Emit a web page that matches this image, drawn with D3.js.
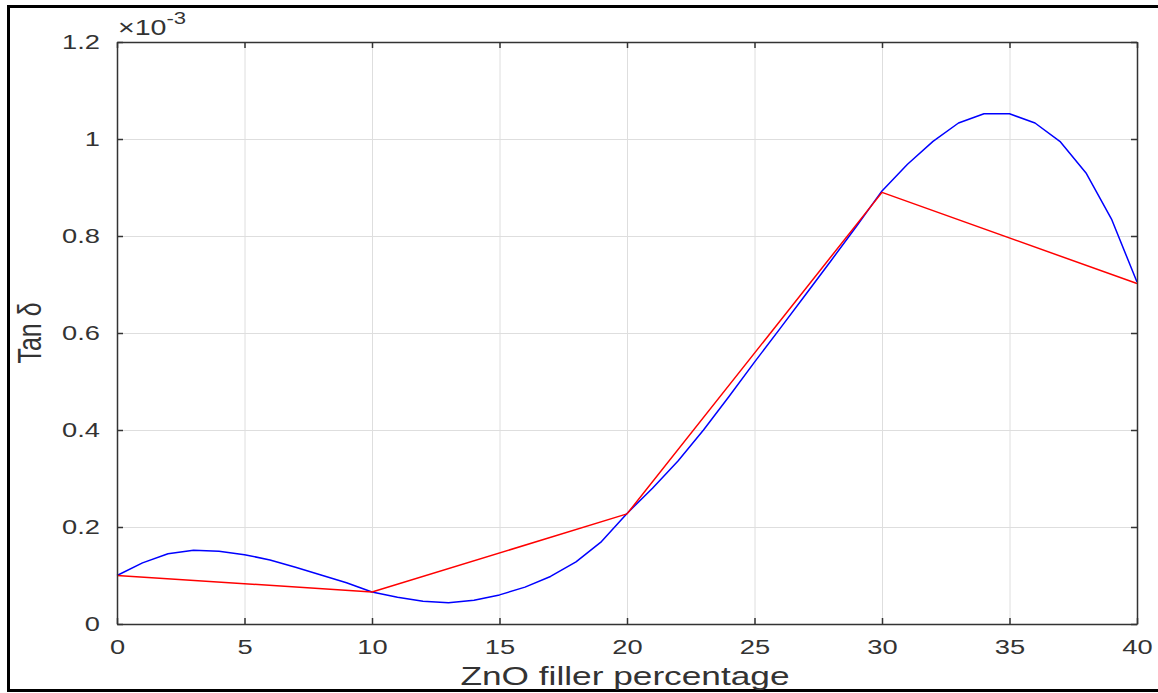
<!DOCTYPE html>
<html>
<head>
<meta charset="utf-8">
<style>
  body { margin: 0; background: #fff; }
  svg text { font-family: "Liberation Sans", Arial, sans-serif; fill: #333; }
  .grid line { stroke: #dedede; stroke-width: 1px; }
  .grid path { display: none; }
  .axis path, .axis line { stroke: #333; stroke-width: 1.5px; }
  .series { fill: none; stroke-width: 1.5px; stroke-linejoin: round; }
</style>
</head>
<body>
<svg width="1158" height="693"></svg>

<script src="https://d3js.org/d3.v7.min.js"></script>
<script>
  // ZnO filler percentage vs tan delta (x 10^-3)
  var xTicks = [0, 5, 10, 15, 20, 25, 30, 35, 40];
  var yTicks = [0, 0.2, 0.4, 0.6, 0.8, 1, 1.2];

  // measured points (red, straight segments)
  var measX = [0, 10, 20, 30, 40];
  var measY = [0.100, 0.066, 0.227, 0.890, 0.702];

  // fitted curve (blue), read at every 1 %
  var fitX = d3.range(0, 41);
  var fitY = [0.100, 0.126, 0.145, 0.152, 0.150, 0.143, 0.132, 0.117, 0.101, 0.085,
              0.066, 0.055, 0.047, 0.044, 0.049, 0.060, 0.076, 0.098, 0.128, 0.170,
              0.228, 0.280, 0.336, 0.400, 0.469, 0.540, 0.609, 0.679, 0.749, 0.820,
              0.893, 0.948, 0.995, 1.033, 1.052, 1.052, 1.033, 0.994, 0.930, 0.835,
              0.705];

  var svg = d3.select("svg");
  var pL = 117, pT = 42, pR = 1137, pB = 624;
  var sx = 1.3; // text in the picture is stretched sideways

  // outer frame
  svg.append("rect")
      .attr("x", 8.5).attr("y", 6.5)
      .attr("width", 1170).attr("height", 684)
      .attr("fill", "none").attr("stroke", "#000").attr("stroke-width", 3);

  var x = d3.scaleLinear().domain([0, 40]).range([pL, pR]);
  var y = d3.scaleLinear().domain([0, 1.2]).range([pB, pT]);

  // grid
  svg.append("g").attr("class", "grid")
      .attr("transform", "translate(0," + pB + ")")
      .call(d3.axisBottom(x).tickValues(xTicks).tickSize(-(pB - pT)).tickFormat(""));
  svg.append("g").attr("class", "grid")
      .attr("transform", "translate(" + pL + ",0)")
      .call(d3.axisLeft(y).tickValues(yTicks).tickSize(-(pR - pL)).tickFormat(""));

  var line = d3.line()
      .x(function(d) { return x(d[0]); })
      .y(function(d) { return y(d[1]); });

  svg.append("path")
      .attr("class", "series")
      .attr("stroke", "#0000ff")
      .attr("d", line(fitX.map(function(v, i) { return [v, fitY[i]]; })));

  svg.append("path")
      .attr("class", "series")
      .attr("stroke", "#ff0000")
      .attr("d", line(measX.map(function(v, i) { return [v, measY[i]]; })));

  // box axes, ticks pointing in
  var xAxis = svg.append("g").attr("class", "axis")
      .attr("transform", "translate(0," + pB + ")")
      .call(d3.axisBottom(x).tickValues(xTicks).tickSizeInner(-6).tickSizeOuter(0).tickPadding(15));
  var yAxis = svg.append("g").attr("class", "axis")
      .attr("transform", "translate(" + pL + ",0)")
      .call(d3.axisLeft(y).tickValues(yTicks).tickSizeInner(-6).tickSizeOuter(0).tickPadding(17)
        .tickFormat(function(d) { return String(+d.toFixed(1)); }));
  svg.append("g").attr("class", "axis")
      .attr("transform", "translate(0," + pT + ")")
      .call(d3.axisTop(x).tickValues(xTicks).tickSizeInner(-6).tickSizeOuter(0).tickFormat(""));
  svg.append("g").attr("class", "axis")
      .attr("transform", "translate(" + pR + ",0)")
      .call(d3.axisRight(y).tickValues(yTicks).tickSizeInner(-6).tickSizeOuter(0).tickFormat(""));

  svg.selectAll(".axis").attr("font-size", null).attr("font-family", null);
  svg.selectAll(".axis text")
      .attr("font-size", 21)
      .attr("fill", "#333");
  xAxis.selectAll("text").attr("transform", "scale(" + sx + ",1)");
  yAxis.selectAll("text")
      .attr("x", -17 / sx)
      .attr("transform", "scale(" + sx + ",1)");

  // exponent label
  var ex = svg.append("text")
      .attr("transform", "translate(118,35) scale(" + sx + ",1)")
      .attr("font-size", 22);
  ex.append("tspan").text("\u00d710");
  ex.append("tspan").attr("font-size", 17).attr("dy", -11).text("-3");

  // axis titles
  svg.append("text")
      .attr("transform", "translate(625,685) scale(1.41,1)")
      .attr("text-anchor", "middle")
      .attr("font-size", 25)
      .text("ZnO filler percentage");

  svg.append("text")
      .attr("transform", "translate(41,333) rotate(-90) scale(1," + sx + ")")
      .attr("text-anchor", "middle")
      .attr("font-size", 25)
      .text("Tan \u03b4");
</script>
</body>
</html>
